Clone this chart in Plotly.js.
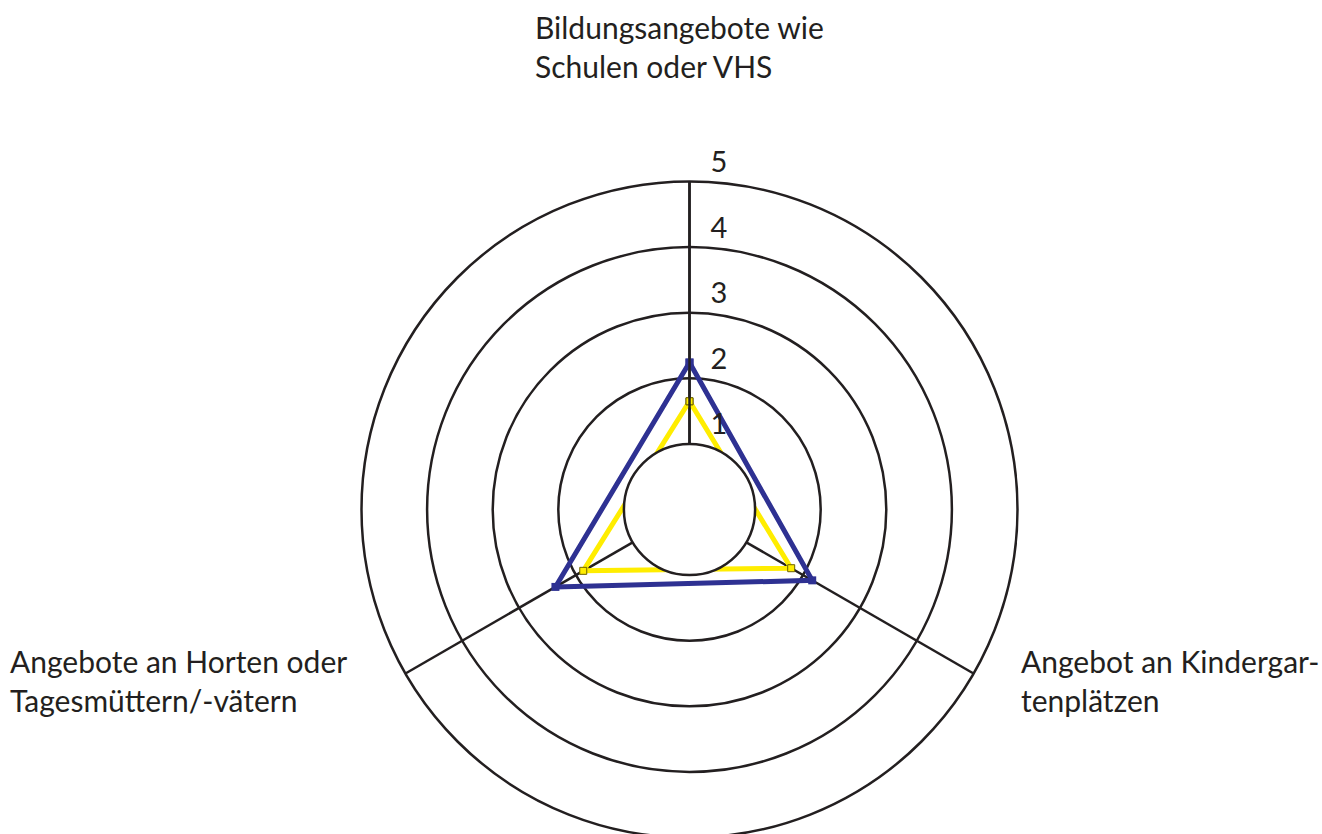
<!DOCTYPE html>
<html>
<head>
<meta charset="utf-8">
<script src="https://cdn.plot.ly/plotly-3.0.1.min.js"></script>
<style>
  html, body { margin: 0; padding: 0; overflow: hidden; background: #fff; }
</style>
</head>
<body>
<div id="plot" style="width:1322px;height:860px;"></div>
<script>
// Axes of the radar
var categories = [
  "Bildungsangebote wie Schulen oder VHS",
  "Angebot an Kindergartenplätzen",
  "Angebote an Horten oder Tagesmüttern/-vätern"
];
var axisLabels = [
  "Bildungsangebote wie<br>Schulen oder VHS",
  "Angebot an Kindergar-<br>tenplätzen",
  "Angebote an Horten oder<br>Tagesmüttern/-vätern"
];
var radialTicks = [1, 2, 3, 4, 5];

// Series values
var blueValues = [2.24, 2.16, 2.36];
var yellowValues = [1.65, 1.79, 1.87];

var W = 1322, H = 860;
var fontFam = "Lato, 'Open Sans', sans-serif";

function closed(a) { return a.concat([a[0]]); }

var yellow = {
  type: "scatterpolar",
  r: closed(yellowValues),
  theta: closed(categories),
  mode: "lines+markers",
  line: { color: "#ffed00", width: 5 },
  marker: { symbol: "square", size: 7, color: "#ffed00", line: { color: "#6b6000", width: 1 } },
  hoverinfo: "r+theta"
};

var blue = {
  type: "scatterpolar",
  r: closed(blueValues),
  theta: closed(categories),
  mode: "lines+markers",
  line: { color: "#2e3192", width: 5 },
  marker: { symbol: "square", size: 8, color: "#2e3192" },
  hoverinfo: "r+theta"
};

// circle centre (689.5, 509.5), outer radius 328 px
var cx = 689.5, cy = 509.5, R = 328;

var layout = {
  width: W,
  height: H,
  margin: { l: 0, r: 0, t: 0, b: 0 },
  paper_bgcolor: "#fff",
  showlegend: false,
  font: { family: fontFam, size: 30, color: "#231f20" },
  polar: {
    domain: {
      x: [(cx - R) / W, (cx + R) / W],
      y: [1 - (cy + R) / H, 1 - (cy - R) / H]
    },
    hole: 0.2,
    bgcolor: "rgba(0,0,0,0)",
    radialaxis: {
      range: [1, 5],
      tickvals: radialTicks,
      // empty second line lifts each number above its ring, as in the source
      ticktext: radialTicks.map(function (t) { return t + "<br> "; }),
      angle: 90,
      tickangle: 90,
      side: "clockwise",
      showline: true,
      linecolor: "#231f20",
      linewidth: 2.5,
      gridcolor: "#231f20",
      gridwidth: 2.5,
      ticks: "outside",
      ticklen: 14,
      tickcolor: "rgba(0,0,0,0)",
      tickfont: { family: fontFam, size: 29, color: "#231f20" }
    },
    angularaxis: {
      type: "category",
      categoryarray: categories,
      rotation: 90,
      direction: "clockwise",
      showline: true,
      linecolor: "#231f20",
      linewidth: 2.5,
      gridcolor: "#231f20",
      gridwidth: 2.5,
      showticklabels: false,
      ticks: ""
    }
  },
  annotations: [
    { text: axisLabels[0], xref: "paper", yref: "paper", x: 533 / W, y: 1 - 46 / H,
      xanchor: "left", yanchor: "middle", align: "left", showarrow: false },
    { text: axisLabels[1], xref: "paper", yref: "paper", x: 1019 / W, y: 1 - 680 / H,
      xanchor: "left", yanchor: "middle", align: "left", showarrow: false },
    { text: axisLabels[2], xref: "paper", yref: "paper", x: 8 / W, y: 1 - 680 / H,
      xanchor: "left", yanchor: "middle", align: "left", showarrow: false }
  ]
};

Plotly.newPlot("plot", [yellow, blue], layout, { staticPlot: true });
</script>
</body>
</html>
